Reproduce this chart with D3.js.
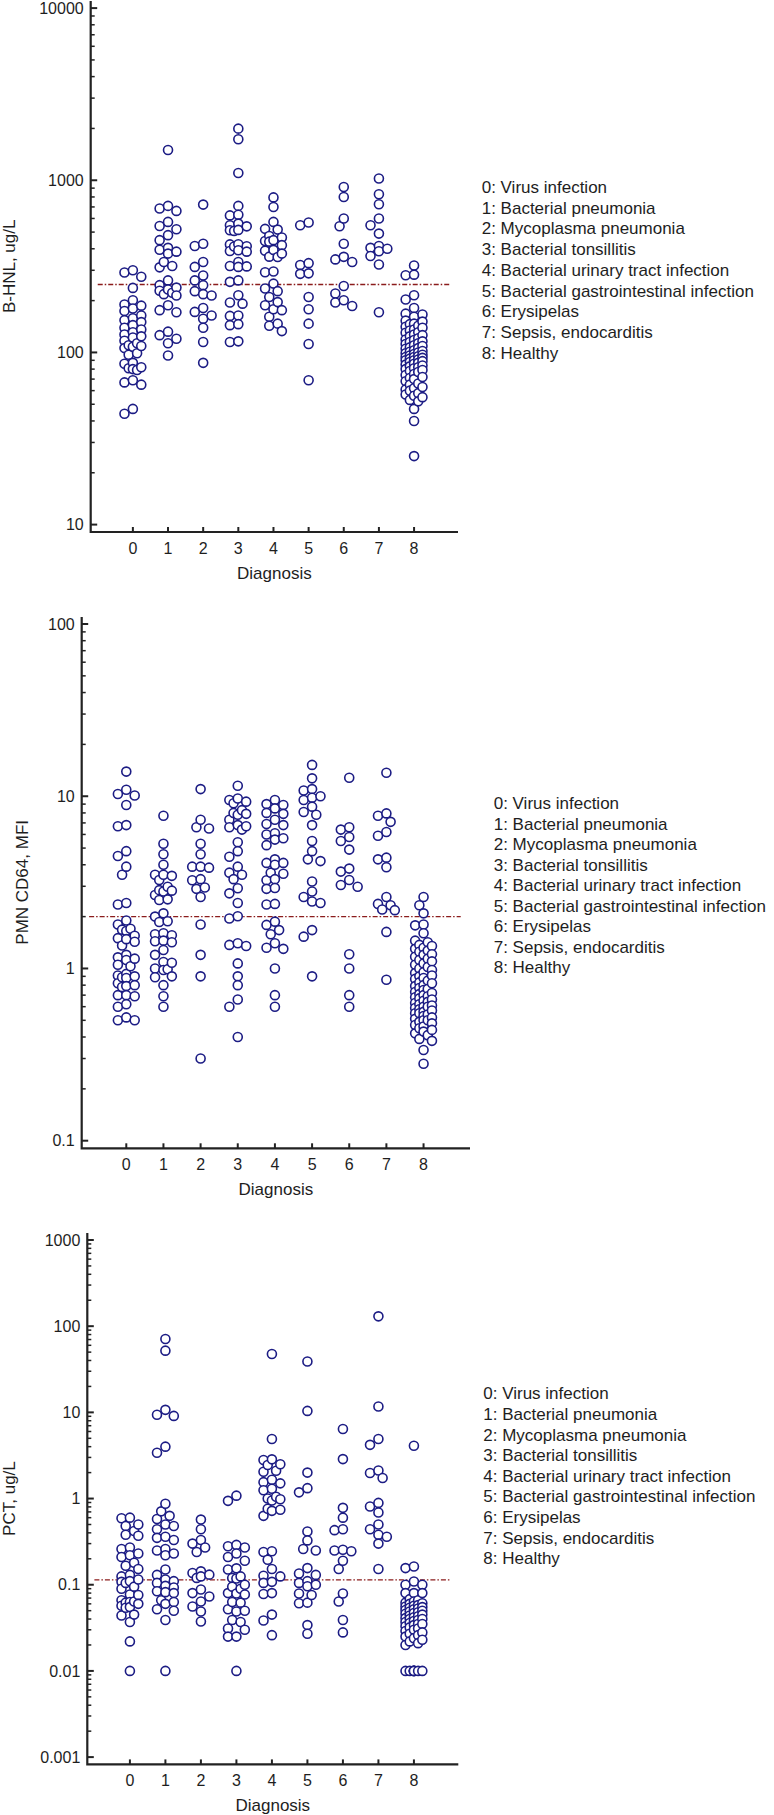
<!DOCTYPE html>
<html><head><meta charset="utf-8">
<script src="https://cdn.jsdelivr.net/npm/d3@7"></script>
<style>
body{margin:0;background:#fff;}
svg text{font-family:"Liberation Sans",Arial,sans-serif;fill:#1e1e1e;}
</style></head><body>
<svg id="chart" width="774" height="1815"></svg>
<script>
// ---------- data ----------
const categories = [0,1,2,3,4,5,6,7,8];
const categoryLabels = ["0","1","2","3","4","5","6","7","8"];
const legendLabels = ["0: Virus infection","1: Bacterial pneumonia","2: Mycoplasma pneumonia","3: Bacterial tonsillitis","4: Bacterial urinary tract infection","5: Bacterial gastrointestinal infection","6: Erysipelas","7: Sepsis, endocarditis","8: Healthy"];
const xTitle = "Diagnosis";

// Panel 1: B-HNL, ug/L
const hnlTicks = [10,100,1000,10000];
const hnlTickLabels = ["10","100","1000","10000"];
const hnlCutoff = 248;
const hnl0 = [300,291,275,237,201,190,187,180,174,164,158,154,150,144,139,136,131,127,124,122,117,113,110,109,108,106,99,97,87,86,82,81,80,79,69,67,65,47,44];
const hnl1 = [1500,710,685,664,573,543,519,480,449,405,395,385,375,335,318,312,262,246,238,232,228,222,218,214,188,176,171,132,126,120,113,96];
const hnl2 = [722,428,415,335,314,280,262,246,227,218,214,181,172,164,157,139,115,87];
const hnl3 = [1995,1730,1101,710,630,625,560,548,540,515,512,508,425,424,414,412,392,388,385,335,318,316,314,262,257,215,195,192,164,163,146,144,116,115];
const hnl4 = [795,700,573,522,517,475,465,449,444,440,420,394,390,375,360,358,295,292,251,235,227,210,196,188,178,176,161,147,143,133];
const hnl5 = [568,548,330,322,288,286,210,178,147,112,69];
const hnl6 = [914,800,600,541,428,359,347,335,243,220,201,195,186];
const hnl7 = [1024,829,726,600,548,490,415,405,400,387,363,324,171];
const hnl8 = [320,283,281,215,203,181,168,166,161,153,151,147,146,143,141,139,136,134,131,130,127,126,124,121,119,118,116,115,113,112,110,109,107,106,105,103,102,101,100,99,98,97,96,95,94,94,93,92,91,90,90,89,88,87,86,85,84,83,82,81,80,79,78,77,75,74,72,71,70,68,66,65,63,62,61,60,58,57,56,55,53,52,47,40,25];

// Panel 2: PMN CD64, MFI
const cdTicks = [0.1,1,10,100];
const cdTickLabels = ["0.1","1","10","100"];
const cdCutoff = 2.0;
const cd0 = [13.9,10.9,10.3,10.1,8.9,6.8,6.7,4.8,4.5,3.9,3.5,2.4,2.35,1.9,1.8,1.7,1.68,1.65,1.55,1.5,1.48,1.43,1.36,1.2,1.16,1.14,1.12,1.05,1.03,0.93,0.91,0.9,0.89,0.88,0.82,0.8,0.79,0.78,0.7,0.7,0.69,0.62,0.6,0.52,0.5,0.5];
const cd1 = [7.7,5.3,4.6,4.0,3.5,3.5,3.45,3.26,2.98,2.85,2.83,2.8,2.67,2.52,2.5,2.09,2.0,1.88,1.86,1.6,1.58,1.56,1.45,1.44,1.42,1.28,1.2,1.09,1.08,1.0,0.99,0.98,0.9,0.89,0.8,0.69,0.6];
const cd2 = [11.0,7.3,6.6,6.5,5.3,4.6,3.9,3.9,3.85,3.3,3.25,2.95,2.9,2.6,1.8,1.2,0.9,0.3];
const cd3 = [11.5,9.7,9.5,9.3,9.1,8.3,8.0,7.9,7.8,7.3,6.8,6.7,6.6,6.4,5.4,4.8,4.45,3.9,3.6,3.5,3.3,2.92,2.73,2.4,2.01,1.95,1.4,1.37,1.35,1.07,0.9,0.8,0.66,0.6,0.4];
const cd4 = [9.5,9.0,8.9,8.5,8.0,7.9,7.3,6.9,6.8,6.1,6.0,5.7,5.6,5.2,4.3,4.1,4.1,4.0,3.6,3.55,3.3,3.25,2.93,2.9,2.37,2.35,1.87,1.79,1.67,1.58,1.4,1.32,1.3,1.0,0.7,0.6];
const cd5 = [15.2,12.7,11.0,10.8,10.0,9.8,9.5,8.7,8.1,7.8,6.8,5.5,4.8,4.3,4.2,3.2,2.8,2.6,2.45,2.4,1.67,1.53,0.9];
const cd6 = [12.8,6.6,6.4,5.8,5.5,4.9,3.8,3.65,3.26,3.05,2.98,1.21,1.0,0.7,0.6];
const cd7 = [13.7,7.95,7.7,7.1,6.2,5.9,4.4,4.3,3.87,2.6,2.37,2.33,2.2,2.18,1.63,0.86];
const cd8 = [2.6,2.33,2.09,1.8,1.78,1.6,1.45,1.42,1.37,1.35,1.32,1.3,1.27,1.25,1.21,1.2,1.17,1.14,1.12,1.1,1.07,1.05,1.02,1.0,0.98,0.95,0.94,0.91,0.9,0.88,0.87,0.85,0.83,0.82,0.8,0.79,0.77,0.76,0.75,0.73,0.72,0.71,0.7,0.69,0.68,0.67,0.66,0.65,0.64,0.63,0.62,0.61,0.6,0.6,0.59,0.58,0.57,0.56,0.55,0.55,0.54,0.53,0.52,0.51,0.5,0.5,0.49,0.48,0.47,0.46,0.45,0.44,0.43,0.42,0.41,0.39,0.38,0.336,0.28];

// Panel 3: PCT, ug/L
const pctTicks = [0.001,0.01,0.1,1,10,100,1000];
const pctTickLabels = ["0.001","0.01","0.1","1","10","100","1000"];
const pctCutoff = 0.114;
const pct0 = [0.6,0.59,0.5,0.48,0.42,0.38,0.37,0.27,0.26,0.23,0.22,0.21,0.18,0.166,0.152,0.13,0.125,0.115,0.11,0.108,0.105,0.095,0.09,0.077,0.076,0.066,0.064,0.063,0.062,0.06,0.057,0.055,0.054,0.045,0.044,0.037,0.022,0.01];
const pct1 = [71,52,10.7,9.4,9.1,4.0,3.4,0.87,0.71,0.63,0.58,0.5,0.48,0.44,0.36,0.35,0.33,0.26,0.25,0.23,0.22,0.15,0.13,0.115,0.11,0.105,0.097,0.093,0.084,0.082,0.08,0.066,0.063,0.06,0.052,0.05,0.039,0.01];
const pct2 = [0.57,0.44,0.33,0.30,0.27,0.24,0.143,0.137,0.131,0.125,0.12,0.088,0.08,0.073,0.064,0.056,0.049,0.0375];
const pct3 = [1.08,0.94,0.29,0.28,0.27,0.23,0.21,0.19,0.155,0.15,0.125,0.12,0.118,0.1,0.095,0.09,0.08,0.079,0.077,0.063,0.062,0.052,0.05,0.049,0.039,0.037,0.031,0.03,0.025,0.025,0.01];
const pct4 = [47.5,4.9,2.85,2.8,2.5,2.45,2.1,2.05,1.65,1.55,1.5,1.3,1.25,1.05,1.0,0.98,0.95,0.76,0.74,0.72,0.63,0.245,0.24,0.195,0.152,0.127,0.125,0.108,0.105,0.08,0.078,0.045,0.0385,0.026];
const pct5 = [39,10.4,2.0,1.32,1.18,0.415,0.327,0.26,0.25,0.156,0.135,0.13,0.11,0.105,0.1,0.096,0.079,0.076,0.062,0.061,0.034,0.027];
const pct6 = [6.4,2.87,0.78,0.6,0.44,0.43,0.255,0.25,0.245,0.19,0.152,0.079,0.064,0.039,0.028];
const pct7 = [130,11.7,4.9,4.2,2.12,1.98,1.73,0.89,0.81,0.69,0.5,0.44,0.38,0.36,0.3,0.152];
const pct8 = [4.1,0.163,0.156,0.109,0.1,0.1,0.08,0.08,0.08,0.068,0.066,0.064,0.062,0.061,0.06,0.058,0.057,0.056,0.055,0.054,0.053,0.052,0.051,0.05,0.049,0.048,0.047,0.046,0.045,0.044,0.043,0.042,0.041,0.04,0.04,0.039,0.038,0.037,0.036,0.035,0.035,0.034,0.033,0.032,0.031,0.03,0.029,0.028,0.027,0.026,0.025,0.024,0.023,0.022,0.021,0.02,0.01,0.01,0.01,0.01,0.01,0.01,0.01,0.01];

// ---------- layout ----------
const panels = [
  {title:"B-HNL, ug/L", series:[hnl0,hnl1,hnl2,hnl3,hnl4,hnl5,hnl6,hnl7,hnl8], ticks:hnlTicks, tickLabels:hnlTickLabels, cutoff:hnlCutoff,
   yRange:[524.6,8.1], axisY:532, xRange:[90.7,458], titleX:9.2, legendX:481.7, legendY:186.7, legendDy:20.75},
  {title:"PMN CD64, MFI", series:[cd0,cd1,cd2,cd3,cd4,cd5,cd6,cd7,cd8], ticks:cdTicks, tickLabels:cdTickLabels, cutoff:cdCutoff,
   yRange:[1140.7,624], axisY:1148.3, xRange:[81.7,470], titleX:21.7, legendX:493.7, legendY:803.3, legendDy:20.5},
  {title:"PCT, ug/L", series:[pct0,pct1,pct2,pct3,pct4,pct5,pct6,pct7,pct8], ticks:pctTicks, tickLabels:pctTickLabels, cutoff:pctCutoff,
   yRange:[1757.1,1240], axisY:1764.4, xRange:[87.3,458.3], titleX:9.5, legendX:483.3, legendY:1393.3, legendDy:20.6}
];

const svg = d3.select("#chart");
const axisColor = "#222";
const dotColor = "#1c1c84";
const refColor = "#8b1c1c";

function swarm(values, xc, y, step, maxSteps, minDist){
  const sorted = values.slice().sort((a,b)=>b-a);
  const placed = [];
  const cands = [0];
  for(let k=1;k<=maxSteps;k++){ cands.push(-k*step, k*step); }
  sorted.forEach(v=>{
    const py = y(v);
    let best = 0, bestD = -1;
    for(const o of cands){
      let d = Infinity;
      for(const p of placed){
        const dd = Math.hypot(p.x-(xc+o), p.y-py);
        if(dd<d) d = dd;
      }
      if(d>=minDist){ best=o; bestD=d; break; }
      if(d>bestD+0.5){ bestD=d; best=o; }
    }
    placed.push({x:xc+best, y:py, v});
  });
  return placed;
}

panels.forEach(p=>{
  const g = svg.append("g");
  const x = d3.scaleLinear().domain([-1.2,9.25]).range(p.xRange);
  const y = d3.scaleLog().domain([p.ticks[0], p.ticks[p.ticks.length-1]]).range(p.yRange);
  const L = p.xRange[0], R = p.xRange[1];
  const top = p.yRange[1]-7;

  // reference line
  g.append("line")
    .attr("x1", x(-1)).attr("x2", x(9))
    .attr("y1", y(p.cutoff)).attr("y2", y(p.cutoff))
    .attr("stroke", refColor).attr("stroke-width", 1.4)
    .attr("stroke-dasharray", "5,2,1.5,2");

  // points
  p.series.forEach((vals,i)=>{
    const pts = swarm(vals, x(categories[i]), y, 4.2, 2, 8.6);
    pts.sort((a,b)=>a.x-b.x);
    g.append("g").selectAll("circle").data(pts).join("circle")
      .attr("cx", d=>d.x).attr("cy", d=>d.y).attr("r", 4.5)
      .attr("fill", "#fff").attr("stroke", dotColor).attr("stroke-width", 1.6);
  });

  // axis frame
  g.append("path")
    .attr("d", `M${L},${top}V${p.axisY}H${R}`)
    .attr("fill","none").attr("stroke",axisColor).attr("stroke-width",2.2);

  // y major ticks (inward) + labels
  p.ticks.forEach((t,i)=>{
    g.append("line").attr("x1",L).attr("x2",L+6.5).attr("y1",y(t)).attr("y2",y(t))
      .attr("stroke",axisColor).attr("stroke-width",2);
    g.append("text").attr("x",L-7).attr("y",y(t)).attr("dy","0.36em")
      .attr("text-anchor","end").attr("font-size",16).text(p.tickLabels[i]);
  });
  // y minor ticks
  for(let k=0;k<p.ticks.length-1;k++){
    for(let m=2;m<=9;m++){
      const v = p.ticks[k]*m;
      g.append("line").attr("x1",L).attr("x2",L+4).attr("y1",y(v)).attr("y2",y(v))
        .attr("stroke",axisColor).attr("stroke-width",1.5);
    }
  }
  // x ticks (inward) + labels
  categories.forEach((c,i)=>{
    g.append("line").attr("x1",x(c)).attr("x2",x(c)).attr("y1",p.axisY).attr("y2",p.axisY-5)
      .attr("stroke",axisColor).attr("stroke-width",2);
    g.append("text").attr("x",x(c)).attr("y",p.axisY+21.5)
      .attr("text-anchor","middle").attr("font-size",16).text(categoryLabels[i]);
  });

  // axis titles
  g.append("text").attr("x",(L+R)/2).attr("y",p.axisY+41).attr("dy","0.35em")
    .attr("text-anchor","middle").attr("font-size",17).text(xTitle);
  const ym = (p.yRange[0]+p.yRange[1])/2;
  g.append("text").attr("transform",`translate(${p.titleX},${ym}) rotate(-90)`)
    .attr("dy","0.35em").attr("text-anchor","middle").attr("font-size",17).text(p.title);

  // legend
  g.append("g").selectAll("text").data(legendLabels).join("text")
    .attr("x", p.legendX).attr("y",(d,i)=>p.legendY+i*p.legendDy).attr("dy","0.36em")
    .attr("font-size",17).text(d=>d);
});
</script>
</body></html>
